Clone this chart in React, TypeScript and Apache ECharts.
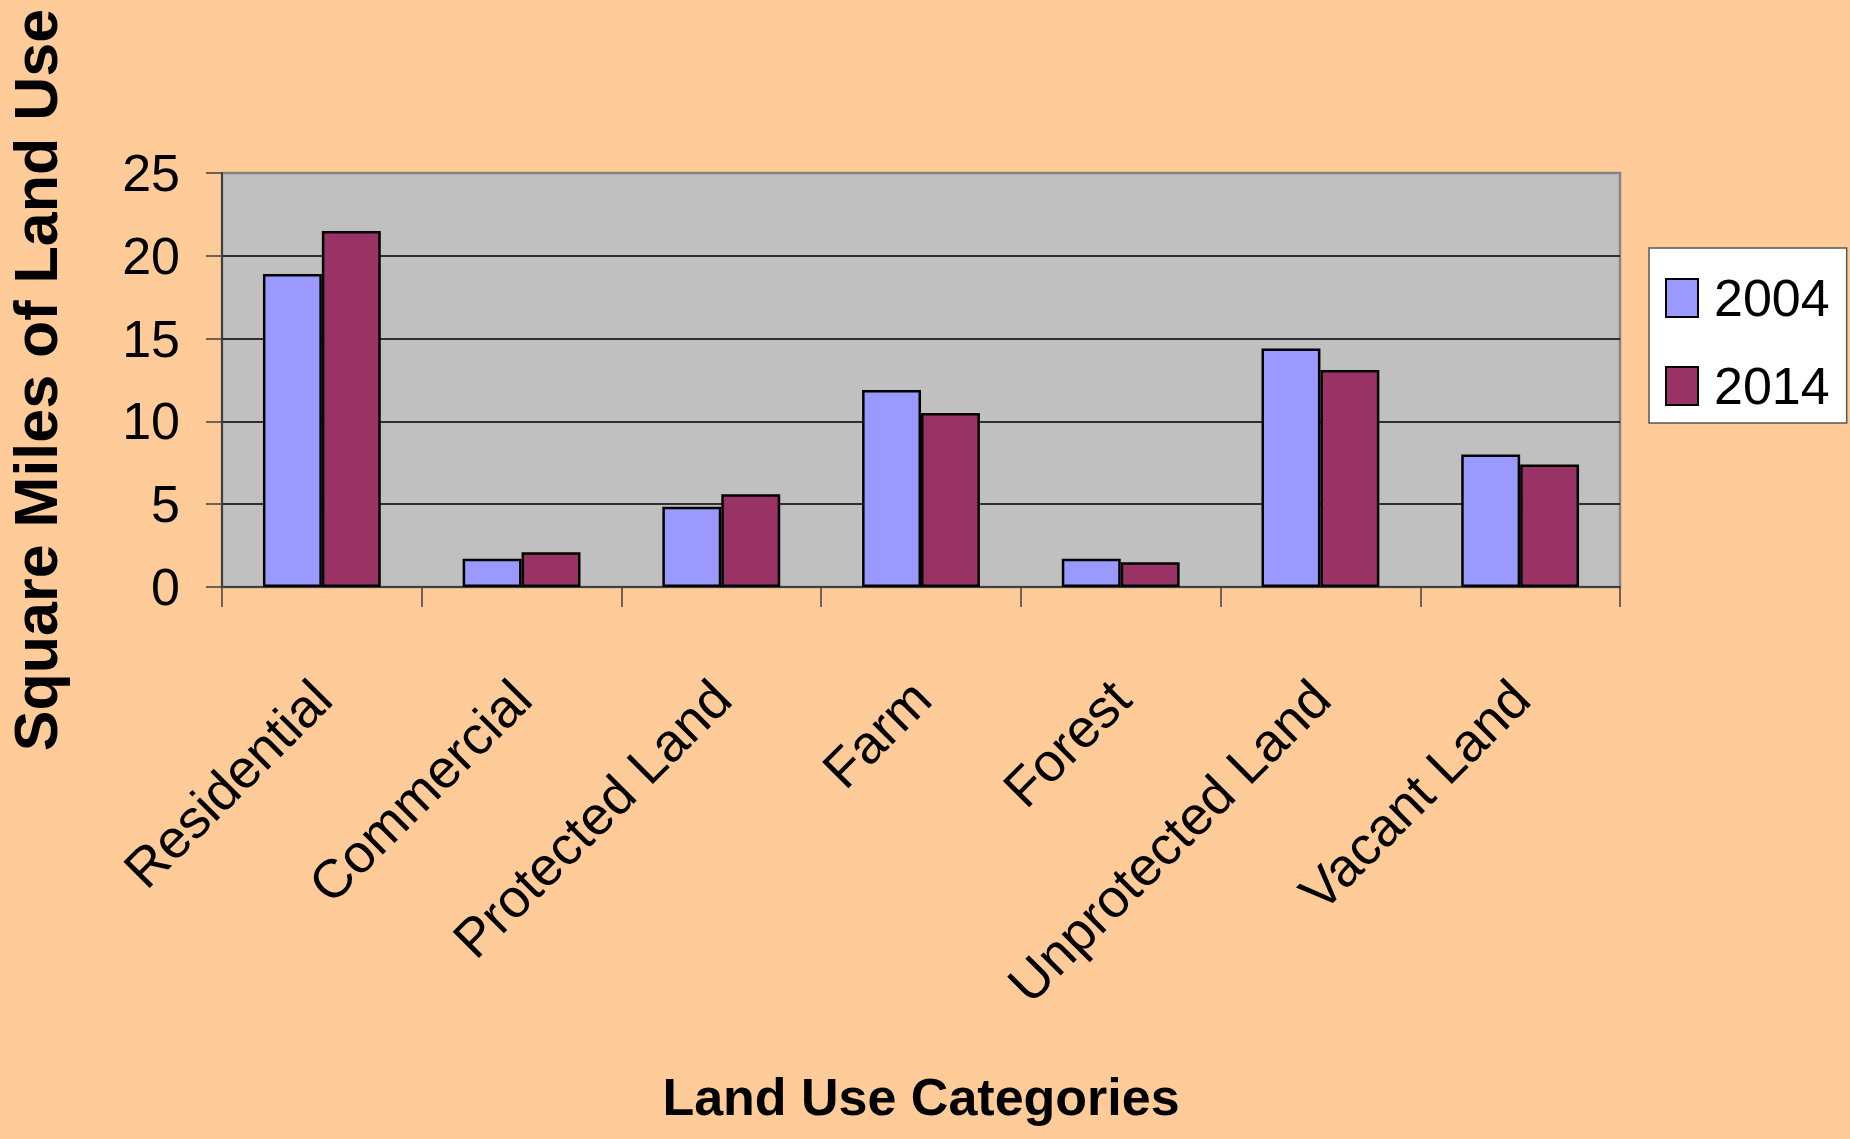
import React, { useEffect, useRef } from "react";
import * as echarts from "echarts";

const categories = [
  "Residential",
  "Commercial",
  "Protected Land",
  "Farm",
  "Forest",
  "Unprotected Land",
  "Vacant Land",
];
const values2004 = [18.9, 1.7, 4.85, 11.9, 1.7, 14.4, 8.0];
const values2014 = [21.5, 2.1, 5.6, 10.5, 1.5, 13.1, 7.4];
const seriesNames = ["2004", "2014"];
const yTicks = { min: 0, max: 25, interval: 5 };

const FONT = "'Liberation Sans', Arial, Helvetica, sans-serif";

export default function App() {
  const ref = useRef<HTMLDivElement>(null);
  useEffect(() => {
    if (!ref.current) return;
    document.body.style.margin = "0";
    const chart = echarts.init(ref.current, null, { renderer: "svg" });
    chart.setOption({
      animation: false,
      backgroundColor: "#FFCC99",
      textStyle: { fontFamily: FONT },
      grid: {
        left: 222,
        right: 230,
        top: 173,
        bottom: 552,
        outerBoundsMode: "none",
        containLabel: false,
        show: true,
        backgroundColor: "#C0C0C0",
        borderColor: "#858585",
        borderWidth: 2.5,
      },
      legend: {
        data: seriesNames,
        orient: "vertical",
        left: 1649,
        top: 248,
        backgroundColor: "#FFFFFF",
        borderColor: "#555555",
        borderWidth: 1.5,
        borderRadius: 0,
        padding: [24, 17, 11, 16],
        itemGap: 36,
        itemWidth: 32,
        itemHeight: 38,
        icon: "rect",
        textStyle: {
          fontSize: 52,
          color: "#000",
          fontFamily: FONT,
          lineHeight: 52,
          padding: [0, 0, 0, 11],
        },
      },
      xAxis: {
        type: "category",
        data: categories,
        boundaryGap: true,
        name: "Land Use Categories",
        nameLocation: "middle",
        nameGap: 484,
        nameTextStyle: {
          fontSize: 52,
          fontWeight: "bold",
          color: "#000",
          fontFamily: FONT,
        },
        axisLine: { show: true, lineStyle: { color: "#404040", width: 2 } },
        axisTick: {
          show: true,
          alignWithLabel: false,
          interval: 0,
          length: 20,
          lineStyle: { color: "#404040", width: 1.5 },
        },
        axisLabel: {
          rotate: 45,
          fontSize: 54,
          color: "#000",
          fontFamily: FONT,
          margin: 102,
          interval: 0,
        },
      },
      yAxis: {
        type: "value",
        min: yTicks.min,
        max: yTicks.max,
        interval: yTicks.interval,
        name: "Square Miles of Land Use",
        nameLocation: "middle",
        nameRotate: 90,
        nameGap: 156,
        nameTextStyle: {
          fontSize: 61,
          fontWeight: "bold",
          color: "#000",
          fontFamily: FONT,
        },
        axisLine: { show: true, lineStyle: { color: "#404040", width: 2 } },
        axisTick: {
          show: true,
          length: 16,
          lineStyle: { color: "#404040", width: 1.5 },
        },
        axisLabel: {
          fontSize: 52,
          color: "#000",
          fontFamily: FONT,
          margin: 42,
        },
        splitLine: {
          show: true,
          lineStyle: {
            color: ["#000", "#000", "#000", "#000", "#000", "#858585"],
            width: 1.5,
          },
        },
      },
      series: [
        {
          name: seriesNames[0],
          type: "bar",
          data: values2004,
          barGap: "0%",
          barCategoryGap: "41%",
          itemStyle: { color: "#9999FF", borderColor: "#000", borderWidth: 2.5 },
        },
        {
          name: seriesNames[1],
          type: "bar",
          data: values2014,
          barGap: "0%",
          barCategoryGap: "41%",
          itemStyle: { color: "#993366", borderColor: "#000", borderWidth: 2.5 },
        },
      ],
    });
    return () => chart.dispose();
  }, []);
  return (
    <div
      ref={ref}
      style={{ position: "fixed", left: 0, top: 0, width: 1850, height: 1139 }}
    />
  );
}
